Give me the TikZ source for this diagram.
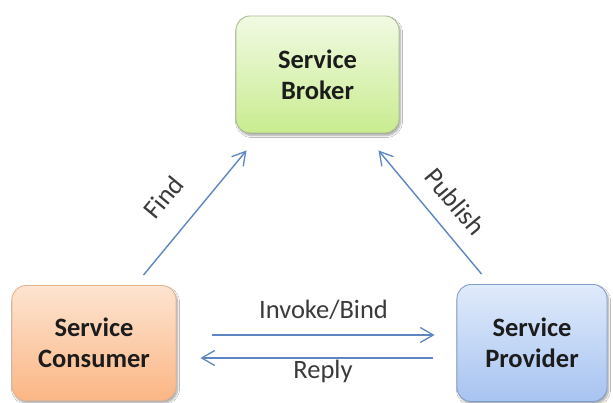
\documentclass[tikz,border=0pt]{standalone}
\usepackage{fontspec}
\setmainfont{Carlito}
\usetikzlibrary{arrows.meta,shadows.blur}

\definecolor{arrowblue}{HTML}{5E86C0}
\definecolor{labelgray}{HTML}{3A3A3A}
\definecolor{boxtext}{HTML}{1C1C1C}
\definecolor{brokertop}{HTML}{F1FAE3}
\definecolor{brokerbot}{HTML}{C9EC90}
\definecolor{brokerline}{HTML}{ABBD92}
\definecolor{consumertop}{HTML}{FDE4D1}
\definecolor{consumerbot}{HTML}{FBB685}
\definecolor{consumerline}{HTML}{E6B48E}
\definecolor{providertop}{HTML}{E0EBFB}
\definecolor{providerbot}{HTML}{A7C3F1}
\definecolor{providerline}{HTML}{859FCB}

\tikzset{
  svcbox/.style={rounded corners=14pt, line width=0.9pt, align=center,
    text=boxtext, font=\bfseries\fontsize{26.5}{31}\selectfont,
    blur shadow={shadow xshift=1.5pt, shadow yshift=-2.5pt,
                 shadow blur steps=8, shadow opacity=35}},
  msg/.style={draw=arrowblue, line width=1.4pt,
    -{Straight Barb[length=13pt,width=15pt,line width=1.3pt]}},
  msglabel/.style={text=labelgray, font=\fontsize{26.5}{31}\selectfont, inner sep=0pt}
}

\begin{document}
\begin{tikzpicture}[x=1pt,y=-1pt]
  \fill[white] (0,0) rectangle (613,403);
  \useasboundingbox (0,0) rectangle (613,403);

  % the three service roles
  \node[svcbox, draw=brokerline, top color=brokertop, bottom color=brokerbot,
        minimum width=163pt, minimum height=117pt] (broker) at (317.5,74.5)
        {Service\\Broker};
  \node[svcbox, draw=consumerline, top color=consumertop, bottom color=consumerbot,
        minimum width=164pt, minimum height=115pt] (consumer) at (94,343)
        {Service\\Consumer};
  \node[svcbox, draw=providerline, top color=providertop, bottom color=providerbot,
        minimum width=150pt, minimum height=117pt] (provider) at (532,343)
        {Service\\Provider};

  % consumer looks the service up at the broker
  \draw[msg] ([shift={(-33pt,10pt)}]consumer.north east)
          -- ([shift={(11pt,-17pt)}]broker.south west)
          node[msglabel, pos=0.45, sloped, above=24pt] (find) {Find};

  % provider registers its service with the broker
  \draw[msg] ([shift={(25pt,10pt)}]provider.north west)
          -- ([shift={(-21pt,-17pt)}]broker.south east)
          node[msglabel, pos=0.45, sloped, above=16pt] (publish) {Publish};

  % request and response between consumer and provider
  \draw[msg] ([shift={(36pt,8pt)}]consumer.east)
          -- ([shift={(-22pt,8pt)}]provider.west)
          node[msglabel, midway, yshift=25pt] (invoke) {Invoke/Bind};
  \draw[msg] ([shift={(-24pt,-15pt)}]provider.west)
          -- ([shift={(24pt,-15pt)}]consumer.east)
          node[msglabel, midway, xshift=6.5pt, yshift=-13pt] (reply) {Reply};
\end{tikzpicture}
\end{document}
